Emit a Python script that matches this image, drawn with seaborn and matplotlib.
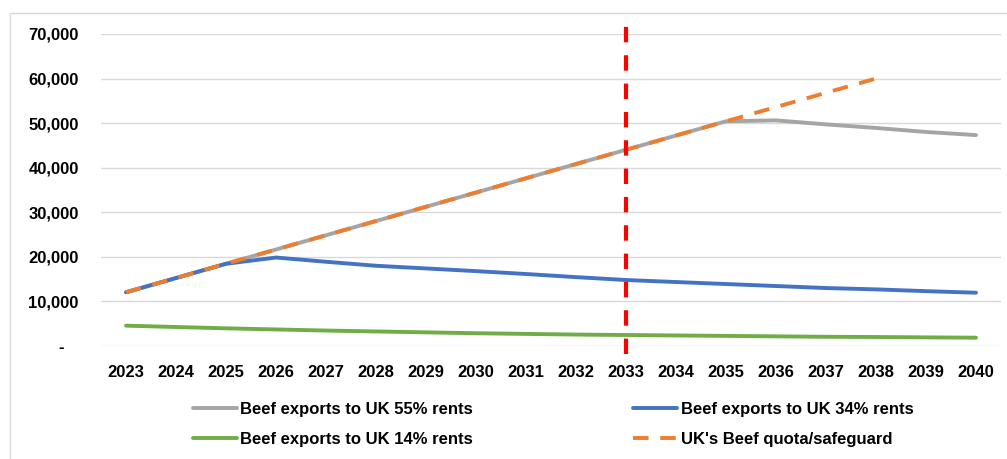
import matplotlib
matplotlib.use("Agg")
import matplotlib.pyplot as plt
from matplotlib.patches import Rectangle
from matplotlib.ticker import FuncFormatter
import pandas as pd
import seaborn as sns

# Projected beef exports to the UK (tonnes) under different rent scenarios
years = list(range(2023, 2041))
rents_55 = [12000, 15200, 18400, 21600, 24800, 28000, 31200, 34400, 37600,
            40800, 44000, 47200, 50400, 50600, 49700, 48900, 48000, 47300]
rents_34 = [12000, 15200, 18400, 19800, 18850, 17950, 17350, 16750, 16100,
            15400, 14750, 14300, 13850, 13400, 12950, 12650, 12250, 11900]
rents_14 = [4500, 4200, 3900, 3650, 3400, 3200, 3000, 2800, 2650,
            2500, 2400, 2300, 2200, 2100, 2000, 1950, 1870, 1800]
quota_years = list(range(2023, 2039))
quota = [12000, 15200, 18400, 21600, 24800, 28000, 31200, 34400,
         37600, 40800, 44000, 47200, 50400, 53600, 56800, 60000]
marker_year = 2033

labels = ["Beef exports to UK 55% rents", "Beef exports to UK 34% rents",
          "Beef exports to UK 14% rents", "UK's Beef quota/safeguard"]
colors = ["#A5A5A5", "#4472C4", "#70AD47", "#ED7D31"]

sns.set_theme(style="white")
plt.rcParams["font.family"] = ["Liberation Sans", "DejaVu Sans"]

fig = plt.figure(figsize=(10.07, 4.59), dpi=100)
ax = fig.add_axes([101 / 1007, 1 - 345.7 / 459, 900 / 1007, 311.7 / 459])

# outer chart frame
fig.patches.append(Rectangle((10 / 1007, -0.1), 1.2, 1.1 - 13 / 459,
                             transform=fig.transFigure, fill=False,
                             edgecolor="#D9D9D9", linewidth=1, zorder=0))

series = [rents_55, rents_34, rents_14]
handles = []
for vals, lab, col in zip(series, labels[:3], colors[:3]):
    df = pd.DataFrame({"year": years, "value": vals})
    sns.lineplot(data=df, x="year", y="value", ax=ax, color=col,
                 linewidth=2.8, label=lab, legend=False,
                 solid_capstyle="round")
    handles.append(ax.lines[-1])

qdf = pd.DataFrame({"year": quota_years, "value": quota})
sns.lineplot(data=qdf, x="year", y="value", ax=ax, color=colors[3],
             linewidth=2.8, label=labels[3], legend=False)
qline = ax.lines[-1]
qline.set_dashes((4, 3))
handles.append(qline)

# policy marker year
ax.plot([marker_year, marker_year], [-0.027, 1.067], color="#FF0000",
        linewidth=3, dashes=(3.7, 3.1), transform=ax.get_xaxis_transform(),
        clip_on=False, zorder=5)

ax.set_xlim(2022.5, 2040.5)
ax.set_ylim(0, 70000)
ax.set_xticks(years)
ax.set_yticks(range(0, 70001, 10000))
ax.yaxis.set_major_formatter(
    FuncFormatter(lambda v, p: "-   " if v == 0 else f"{v:,.0f}"))
ax.set_xlabel("")
ax.set_ylabel("")
ax.grid(axis="y", color="#D9D9D9", linewidth=1)
ax.grid(axis="x", visible=False)
for s in ax.spines.values():
    s.set_visible(False)
ax.tick_params(axis="both", length=0, labelsize=12, labelcolor="black")
ax.tick_params(axis="x", pad=14)
ax.tick_params(axis="y", pad=16)
for t in ax.get_xticklabels() + ax.get_yticklabels():
    t.set_fontweight("bold")

order = [handles[0], handles[2], handles[1], handles[3]]
order_labels = [labels[0], labels[2], labels[1], labels[3]]
fig.legend(order, order_labels, ncol=2, loc="upper left",
           bbox_to_anchor=(193 / 1007, 1 - 402 / 459), frameon=False,
           prop={"weight": "bold", "size": 12}, handlelength=2.65,
           handletextpad=0.2, columnspacing=9.6, labelspacing=0.9,
           borderpad=0, borderaxespad=0, labelcolor="black")

fig.savefig("out.png", dpi=100)
